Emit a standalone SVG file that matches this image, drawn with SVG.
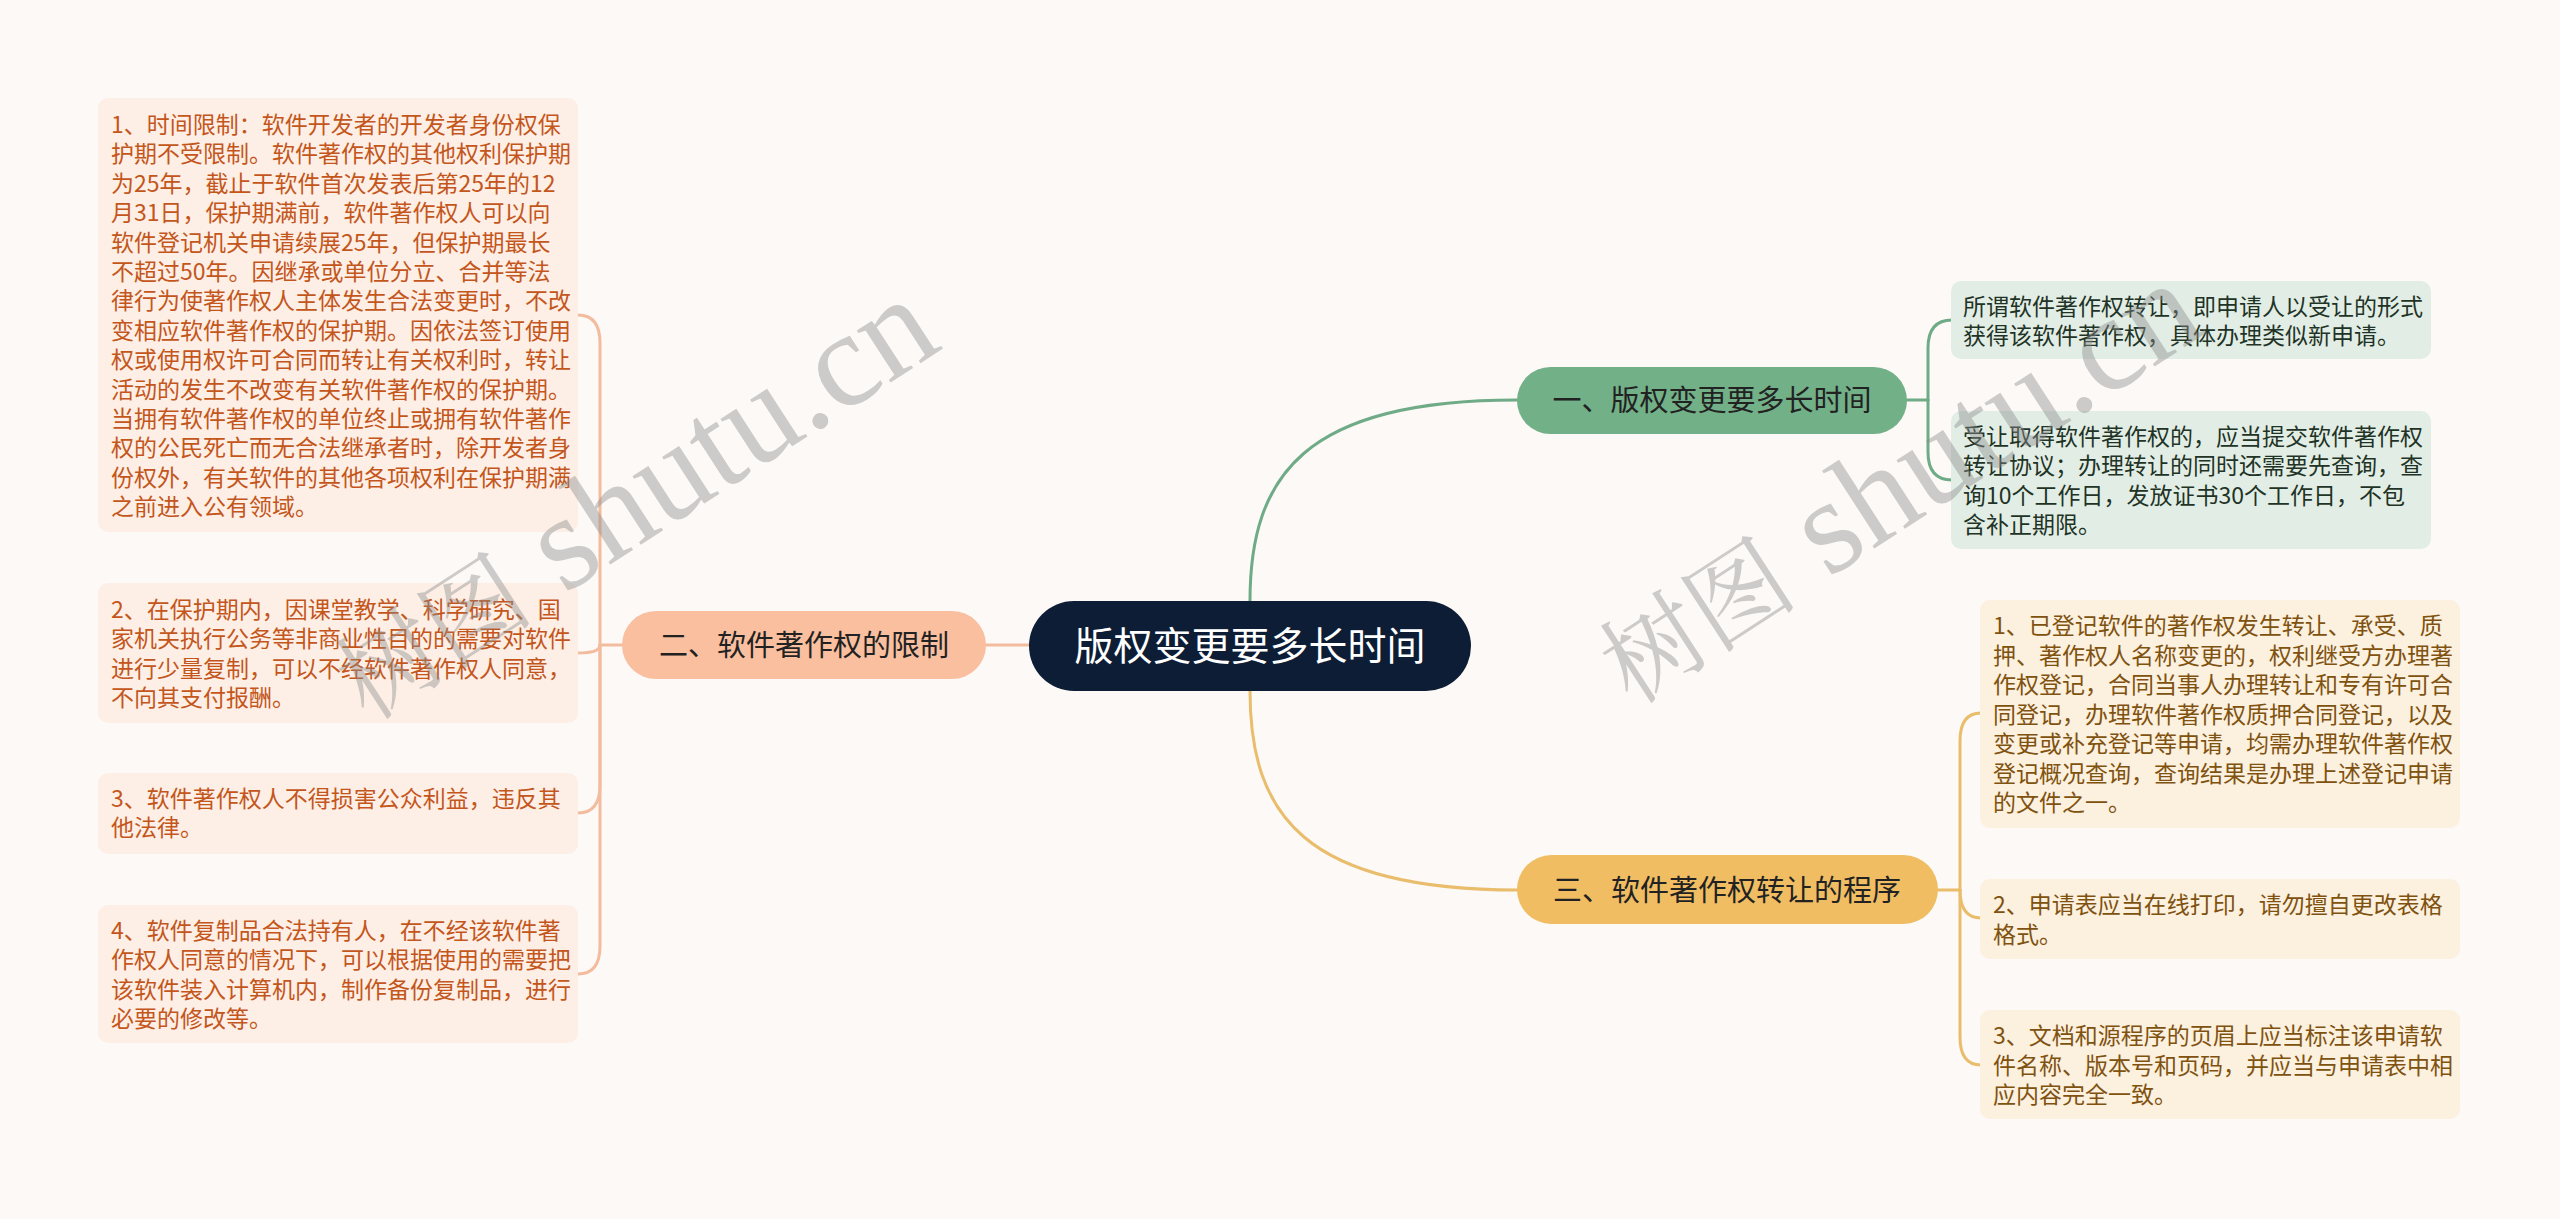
<svg xmlns="http://www.w3.org/2000/svg" width="2560" height="1219" viewBox="0 0 2560 1219">
<style>
text{font-family:"Noto Sans CJK SC","Noto Sans",sans-serif;}
.leaf{font-size:23px;}
.lt-s{fill:#c4561b;}
.lt-g{fill:#1f3326;}
.lt-y{fill:#80520f;}
.br{font-size:29px;fill:#222;text-anchor:middle;}
.conn{fill:none;stroke-width:3;stroke-linecap:round;}
.cg{stroke:#6fab86;}
.cs{stroke:#f4bc9e;}
.cy{stroke:#e9bd6c;}
.wm{font-family:"Liberation Serif","Noto Serif CJK SC","Noto Sans CJK SC",serif;fill:#8c8c8c;opacity:0.42;}
</style>
<rect x="0" y="0" width="2560" height="1219" fill="#fcf9f7"/>
<g id="connectors">
<path class="conn cg" d="M1250,601 C1250,475 1305,400 1517,400"/>
<path class="conn cy" d="M1250,691 C1250,815 1305,890 1517,890"/>
<path class="conn cs" d="M1029,645 L986,645"/>
<path class="conn cg" d="M1907,400 L1928,400"/>
<path class="conn cg" d="M1928,400 L1928,348 Q1928,320 1952,320"/>
<path class="conn cg" d="M1928,400 L1928,452 Q1928,480 1952,480"/>
<path class="conn cy" d="M1937,890 L1960,890"/>
<path class="conn cy" d="M1960,890 L1960,741 Q1960,713 1981,713"/>
<path class="conn cy" d="M1960,890 Q1960,918 1981,918"/>
<path class="conn cy" d="M1960,890 L1960,1037 Q1960,1065 1981,1065"/>
<path class="conn cs" d="M622,645 L600,645"/>
<path class="conn cs" d="M600,645 L600,343 Q600,315 578,315"/>
<path class="conn cs" d="M600,645 Q600,653 578,653"/>
<path class="conn cs" d="M600,645 L600,785 Q600,813 578,813"/>
<path class="conn cs" d="M600,645 L600,946 Q600,974 578,974"/>
</g>
<g id="center">
<rect x="1029" y="601" width="442" height="90" rx="45" fill="#0d1d35"/>
<text x="1250" y="660" font-size="39" fill="#ffffff" text-anchor="middle">版权变更要多长时间</text>
</g>
<g id="branch1">
<rect x="1517" y="367" width="390" height="67" rx="33.5" fill="#72b088"/>
<text class="br" x="1712" y="411">一、版权变更要多长时间</text>
</g>
<g id="branch2">
<rect x="622" y="611" width="364" height="68" rx="34" fill="#f9bf9f"/>
<text class="br" x="804" y="656">二、软件著作权的限制</text>
</g>
<g id="branch3">
<rect x="1517" y="855" width="421" height="69" rx="34.5" fill="#f0bd62"/>
<text class="br" x="1727" y="901">三、软件著作权转让的程序</text>
</g>
<g id="leaf-g1">
<rect x="1951" y="281" width="480" height="78" rx="10" fill="#e2eee5"/>
<text class="leaf lt-g" x="1963" y="315">所谓软件著作权转让，即申请人以受让的形式<tspan x="1963" dy="29.4">获得该软件著作权，具体办理类似新申请。</tspan></text>
</g>
<g id="leaf-g2">
<rect x="1951" y="411" width="480" height="138" rx="10" fill="#e2eee5"/>
<text class="leaf lt-g" x="1963" y="445">受让取得软件著作权的，应当提交软件著作权<tspan x="1963" dy="29.4">转让协议；办理转让的同时还需要先查询，查</tspan><tspan x="1963" dy="29.4">询10个工作日，发放证书30个工作日，不包</tspan><tspan x="1963" dy="29.4">含补正期限。</tspan></text>
</g>
<g id="leaf-y1">
<rect x="1980" y="600" width="480" height="228" rx="10" fill="#fcf0df"/>
<text class="leaf lt-y" x="1993" y="634">1、已登记软件的著作权发生转让、承受、质<tspan x="1993" dy="29.5">押、著作权人名称变更的，权利继受方办理著</tspan><tspan x="1993" dy="29.5">作权登记，合同当事人办理转让和专有许可合</tspan><tspan x="1993" dy="29.5">同登记，办理软件著作权质押合同登记，以及</tspan><tspan x="1993" dy="29.5">变更或补充登记等申请，均需办理软件著作权</tspan><tspan x="1993" dy="29.5">登记概况查询，查询结果是办理上述登记申请</tspan><tspan x="1993" dy="29.5">的文件之一。</tspan></text>
</g>
<g id="leaf-y2">
<rect x="1980" y="879" width="480" height="80" rx="10" fill="#fcf0df"/>
<text class="leaf lt-y" x="1993" y="913">2、申请表应当在线打印，请勿擅自更改表格<tspan x="1993" dy="29.5">格式。</tspan></text>
</g>
<g id="leaf-y3">
<rect x="1980" y="1010" width="480" height="109" rx="10" fill="#fcf0df"/>
<text class="leaf lt-y" x="1993" y="1044">3、文档和源程序的页眉上应当标注该申请软<tspan x="1993" dy="29.5">件名称、版本号和页码，并应当与申请表中相</tspan><tspan x="1993" dy="29.5">应内容完全一致。</tspan></text>
</g>
<g id="leaf-s1">
<rect x="98" y="98" width="480" height="434" rx="10" fill="#fdefe6"/>
<text class="leaf lt-s" x="111" y="133">1、时间限制：软件开发者的开发者身份权保<tspan x="111" dy="29.4">护期不受限制。软件著作权的其他权利保护期</tspan><tspan x="111" dy="29.4">为25年，截止于软件首次发表后第25年的12</tspan><tspan x="111" dy="29.4">月31日，保护期满前，软件著作权人可以向</tspan><tspan x="111" dy="29.4">软件登记机关申请续展25年，但保护期最长</tspan><tspan x="111" dy="29.4">不超过50年。因继承或单位分立、合并等法</tspan><tspan x="111" dy="29.4">律行为使著作权人主体发生合法变更时，不改</tspan><tspan x="111" dy="29.4">变相应软件著作权的保护期。因依法签订使用</tspan><tspan x="111" dy="29.4">权或使用权许可合同而转让有关权利时，转让</tspan><tspan x="111" dy="29.4">活动的发生不改变有关软件著作权的保护期。</tspan><tspan x="111" dy="29.4">当拥有软件著作权的单位终止或拥有软件著作</tspan><tspan x="111" dy="29.4">权的公民死亡而无合法继承者时，除开发者身</tspan><tspan x="111" dy="29.4">份权外，有关软件的其他各项权利在保护期满</tspan><tspan x="111" dy="29.4">之前进入公有领域。</tspan></text>
</g>
<g id="leaf-s2">
<rect x="98" y="583" width="480" height="140" rx="10" fill="#fdefe6"/>
<text class="leaf lt-s" x="111" y="618">2、在保护期内，因课堂教学、科学研究、国<tspan x="111" dy="29.4">家机关执行公务等非商业性目的的需要对软件</tspan><tspan x="111" dy="29.4">进行少量复制，可以不经软件著作权人同意，</tspan><tspan x="111" dy="29.4">不向其支付报酬。</tspan></text>
</g>
<g id="leaf-s3">
<rect x="98" y="773" width="480" height="81" rx="10" fill="#fdefe6"/>
<text class="leaf lt-s" x="111" y="807">3、软件著作权人不得损害公众利益，违反其<tspan x="111" dy="29.4">他法律。</tspan></text>
</g>
<g id="leaf-s4">
<rect x="98" y="905" width="480" height="138" rx="10" fill="#fdefe6"/>
<text class="leaf lt-s" x="111" y="939">4、软件复制品合法持有人，在不经该软件著<tspan x="111" dy="29.4">作权人同意的情况下，可以根据使用的需要把</tspan><tspan x="111" dy="29.4">该软件装入计算机内，制作备份复制品，进行</tspan><tspan x="111" dy="29.4">必要的修改等。</tspan></text>
</g>
<g id="watermarks">
<text class="wm" transform="translate(368,722) rotate(-33)" font-size="100">树图<tspan font-size="135"> shutu.cn</tspan></text>
<text class="wm" transform="translate(1632,706) rotate(-33)" font-size="100">树图<tspan font-size="135"> shutu.cn</tspan></text>
</g>
</svg>
